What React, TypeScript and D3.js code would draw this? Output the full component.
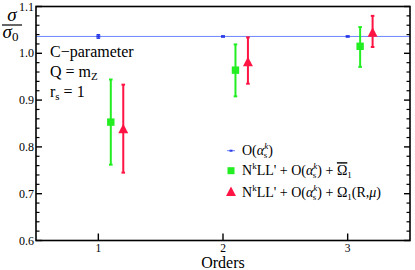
import React from "react";
import * as d3 from "d3";

// values
const orders = [1, 2, 3];
const refLine = 1.036;
const fixedVal = [1.036, 1.036, 1.036];
const fixedLo = [1.032, 1.035, 1.035];
const fixedHi = [1.04, 1.037, 1.037];
const omegaBarVal = [0.853, 0.964, 1.015];
const omegaBarLo = [0.762, 0.908, 0.971];
const omegaBarHi = [0.944, 1.019, 1.056];
const omegaRVal = [0.838, 0.981, 1.044];
const omegaRLo = [0.745, 0.935, 1.0135];
const omegaRHi = [0.933, 1.034, 1.08];
const yMajor = [0.6, 0.7, 0.8, 0.9, 1.0, 1.1];

const W = 415;
const H = 270;
const margin = { top: 6.5, right: 5, bottom: 29.5, left: 36 };
const BLUE = "#2a3ce8";
const BLUE_LINE = "#6d86ff";
const GREEN = "#22ee22";
const RED = "#ff1444";
const FONT = "'Liberation Serif', 'DejaVu Serif', serif";

export default function App() {
  const x = d3.scaleLinear().domain([0.5, 3.5]).range([margin.left, W - margin.right]);
  const y = d3.scaleLinear().domain([0.6, 1.1]).range([H - margin.bottom, margin.top]);
  const yMinor = d3.range(0.62, 1.1, 0.02).filter((v) => Math.abs(v * 10 - Math.round(v * 10)) > 0.01);

  const errBar = (cx: number, lo: number, hi: number, color: string, w: number, key: string) => (
    <g key={key} stroke={color} strokeWidth={w}>
      <line x1={cx} x2={cx} y1={y(lo)} y2={y(hi)} />
      <line x1={cx - 1.8} x2={cx + 1.8} y1={y(lo)} y2={y(lo)} />
      <line x1={cx - 1.8} x2={cx + 1.8} y1={y(hi)} y2={y(hi)} />
    </g>
  );
  const tri = (cx: number, cy: number, s: number) =>
    `M${cx},${cy - s * 0.6}L${cx + s * 0.55},${cy + s * 0.45}L${cx - s * 0.55},${cy + s * 0.45}Z`;

  const alphaSK = (
    <>
      <tspan>O(</tspan>
      <tspan fontStyle="italic">α</tspan>
      <tspan fontSize={9} dy={-6} fontStyle="italic">k</tspan>
      <tspan fontSize={9} dx={-4.5} dy={9}>s</tspan>
      <tspan dx={1} dy={-3}>)</tspan>
    </>
  );
  const nkll = (
    <>
      <tspan>N</tspan>
      <tspan fontSize={9} dy={-6}>k</tspan>
      <tspan dy={6}>LL' + </tspan>
      {alphaSK}
      <tspan> + </tspan>
    </>
  );

  const legendX = 231;
  const legendY = [150.7, 170.7, 192];

  return (
    <div style={{ position: "absolute", left: 0, top: 0 }}>
      <svg width={W} height={H} fontFamily={FONT}>
        <rect width={W} height={H} fill="white" />
        {/* reference line */}
        <line x1={x(0.5)} x2={x(3.5)} y1={y(refLine)} y2={y(refLine)} stroke={BLUE_LINE} strokeWidth={1} />

        {/* fixed-order points */}
        {orders.map((o, i) => (
          <g key={"f" + i}>
            {errBar(x(o), fixedLo[i], fixedHi[i], BLUE, 1.2, "fe" + i)}
            <rect x={x(o) - 2} y={y(fixedVal[i]) - 1.2} width={4} height={2.4} fill={BLUE} />
          </g>
        ))}

        {/* N^kLL' + Omega-bar */}
        {orders.map((o, i) => (
          <g key={"g" + i}>
            {errBar(x(o + 0.1), omegaBarLo[i], omegaBarHi[i], GREEN, 2, "ge" + i)}
            <rect x={x(o + 0.1) - 3.7} y={y(omegaBarVal[i]) - 3.7} width={7.4} height={7.4} fill={GREEN} />
          </g>
        ))}

        {/* N^kLL' + Omega(R,mu) */}
        {orders.map((o, i) => (
          <g key={"r" + i}>
            {errBar(x(o + 0.2), omegaRLo[i], omegaRHi[i], RED, 2, "re" + i)}
            <path d={tri(x(o + 0.2), y(omegaRVal[i]), 9)} fill={RED} />
          </g>
        ))}

        {/* frame */}
        <rect
          x={margin.left}
          y={margin.top}
          width={W - margin.left - margin.right}
          height={H - margin.top - margin.bottom}
          fill="none"
          stroke="black"
          strokeWidth={1.6}
        />

        {/* y ticks */}
        {yMajor.map((v) => (
          <g key={"ym" + v}>
            <line x1={margin.left} x2={margin.left + 6} y1={y(v)} y2={y(v)} stroke="black" strokeWidth={1.4} />
            <line x1={W - margin.right} x2={W - margin.right - 6} y1={y(v)} y2={y(v)} stroke="black" strokeWidth={1.4} />
            <text x={margin.left - 2} y={y(v) + 4} fontSize={12} textAnchor="end">
              {v.toFixed(1)}
            </text>
          </g>
        ))}
        {yMinor.map((v) => (
          <g key={"yn" + v.toFixed(2)}>
            <line x1={margin.left} x2={margin.left + 3.5} y1={y(v)} y2={y(v)} stroke="black" strokeWidth={1.2} />
            <line x1={W - margin.right} x2={W - margin.right - 3.5} y1={y(v)} y2={y(v)} stroke="black" strokeWidth={1.2} />
          </g>
        ))}

        {/* x ticks */}
        {orders.map((o) => (
          <g key={"xt" + o}>
            <line x1={x(o)} x2={x(o)} y1={y(0.6)} y2={y(0.6) - 7} stroke="black" strokeWidth={1.4} />
            <text x={x(o)} y={252} fontSize={11.5} textAnchor="middle">
              {o}
            </text>
          </g>
        ))}
        <text x={(margin.left + W - margin.right) / 2} y={267.5} fontSize={16} textAnchor="middle">
          Orders
        </text>

        {/* y label */}
        <text x={12} y={21} fontSize={19} fontStyle="italic" textAnchor="middle">σ</text>
        <line x1={2} x2={22} y1={25} y2={25} stroke="black" strokeWidth={1.2} />
        <text x={2.5} y={38} fontSize={19} fontStyle="italic">
          σ<tspan fontSize={13} fontStyle="normal" dy={3}>0</tspan>
        </text>

        {/* annotations */}
        <text x={50} y={57} fontSize={16}>C−parameter</text>
        <text x={50} y={77} fontSize={16}>
          Q = m<tspan fontSize={11} dy={3}>Z</tspan>
        </text>
        <text x={50} y={97} fontSize={16}>
          r<tspan fontSize={11} dy={3}>s</tspan>
          <tspan dy={-3}> = 1</tspan>
        </text>

        {/* legend */}
        <line x1={legendX - 4} x2={legendX + 4} y1={legendY[0]} y2={legendY[0]} stroke={BLUE_LINE} strokeWidth={1} />
        <rect x={legendX - 1.5} y={legendY[0] - 1} width={3} height={2} fill={BLUE} />
        <rect x={legendX - 3.5} y={legendY[1] - 3.5} width={7} height={7} fill={GREEN} />
        <path d={tri(legendX, legendY[2], 9)} fill={RED} />

        <text x={242} y={legendY[0] + 4.5} fontSize={14}>
          {alphaSK}
        </text>
        <text x={242} y={legendY[1] + 4.5} fontSize={14}>
          {nkll}
          <tspan style={{ textDecoration: "overline" }}>Ω</tspan>
          <tspan fontSize={9} dy={3}>1</tspan>
        </text>
        <text x={242} y={legendY[2] + 4.5} fontSize={14}>
          {nkll}
          <tspan>Ω</tspan>
          <tspan fontSize={9} dy={3}>1</tspan>
          <tspan dy={-3}>(R,</tspan>
          <tspan fontStyle="italic">μ</tspan>
          <tspan>)</tspan>
        </text>
      </svg>
    </div>
  );
}
